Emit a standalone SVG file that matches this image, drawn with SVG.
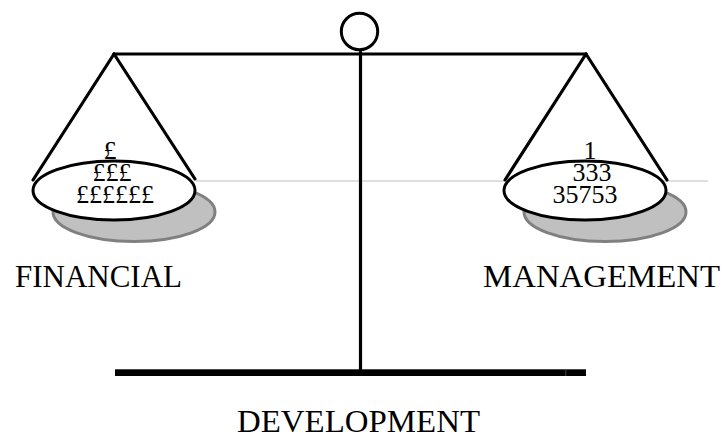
<svg xmlns="http://www.w3.org/2000/svg" width="727" height="439" viewBox="0 0 727 439">
  <style>
    .ln { stroke: #000; stroke-width: 3.2; fill: none; stroke-linecap: round; }
    .pan { fill: #fff; stroke: #000; stroke-width: 3; }
    .shadow { fill: #c0c0c0; stroke: #808080; stroke-width: 3; }
    .lbl { font-family: "Liberation Serif", "Times New Roman", serif; font-size: 32px; fill: #000; }
    .val { font-family: "Liberation Serif", "Times New Roman", serif; font-size: 26px; fill: #000; text-anchor: middle; }
  </style>
  <rect width="727" height="439" fill="#fff"/>

  <g id="connectors">
    <line x1="196" y1="181" x2="708" y2="181" stroke="#d4d4d4" stroke-width="1.5"/>
    <line class="ln" x1="114" y1="54" x2="586" y2="54" stroke-linecap="butt"/>
    <line class="ln" x1="360.5" y1="52" x2="360.5" y2="371" stroke-linecap="butt"/>
    <line class="ln" x1="114" y1="54" x2="33" y2="180"/>
    <line class="ln" x1="114" y1="54" x2="195" y2="179"/>
    <line class="ln" x1="586" y1="54" x2="505" y2="180"/>
    <line class="ln" x1="586" y1="54" x2="667" y2="180"/>
  </g>

  <g id="pivot">
    <circle cx="359.5" cy="31.5" r="18.2" fill="#fff" stroke="#000" stroke-width="3"/>
  </g>

  <g id="base">
    <rect x="115" y="369.3" width="471" height="6.7" fill="#000"/>
    <line x1="565.8" y1="369.3" x2="565.8" y2="376" stroke="#555" stroke-width="0.8"/>
  </g>

  <g id="pan-financial">
    <ellipse class="shadow" cx="134" cy="212" rx="81" ry="29.5"/>
    <ellipse class="pan" cx="114" cy="190.5" rx="81" ry="29.5"/>
    <text class="val" x="110" y="159">£</text>
    <text class="val" x="112" y="181">£££</text>
    <text class="val" x="115" y="203">££££££</text>
  </g>

  <g id="pan-management">
    <ellipse class="shadow" cx="605" cy="212" rx="81" ry="29.5"/>
    <ellipse class="pan" cx="585" cy="190.5" rx="81" ry="29.5"/>
    <text class="val" x="590" y="159">1</text>
    <text class="val" x="592" y="181">333</text>
    <text class="val" x="585" y="203">35753</text>
  </g>

  <g id="label-financial">
    <text class="lbl" x="15" y="287" textLength="167" lengthAdjust="spacingAndGlyphs">FINANCIAL</text>
  </g>
  <g id="label-management">
    <text class="lbl" x="483" y="287" textLength="237" lengthAdjust="spacingAndGlyphs">MANAGEMENT</text>
  </g>
  <g id="label-development">
    <text class="lbl" x="237" y="432" textLength="243" lengthAdjust="spacingAndGlyphs">DEVELOPMENT</text>
  </g>
</svg>
